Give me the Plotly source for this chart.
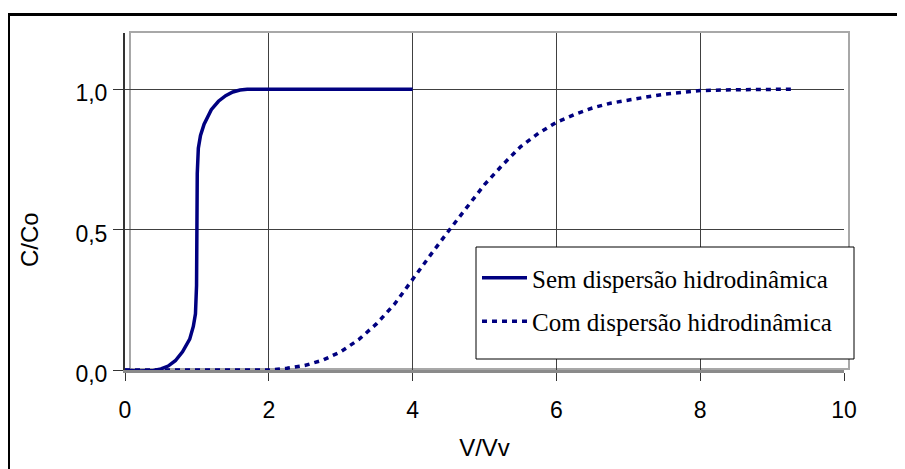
import plotly.graph_objects as go

# ---- data ----
x_sem = [0, 0.2, 0.4, 0.5, 0.6, 0.7, 0.8, 0.9, 0.95, 0.98, 0.995, 1.0, 1.005, 1.02, 1.05,
         1.1, 1.15, 1.2, 1.3, 1.4, 1.5, 1.6, 1.7, 2.0, 3.0, 4.0]
y_sem = [0, -0.004, -0.002, 0.004, 0.014, 0.033, 0.065, 0.11, 0.155, 0.2, 0.3, 0.5, 0.7,
         0.79, 0.835, 0.875, 0.905, 0.927, 0.957, 0.977, 0.99, 0.997, 1.0, 1.0, 1.0, 1.0]

x_com = [0, 0.5, 1.0, 1.5, 2.0, 2.25, 2.5, 2.75, 3.0, 3.25, 3.5, 3.75, 4.0, 4.25, 4.5,
         4.75, 5.0, 5.25, 5.5, 5.75, 6.0, 6.25, 6.5, 6.75, 7.0, 7.25, 7.5, 7.75, 8.0,
         8.5, 9.0, 9.32]
y_com = [0, 0, 0, 0, 0, 0.006, 0.016, 0.035, 0.065, 0.108, 0.165, 0.235, 0.325, 0.41,
         0.495, 0.578, 0.66, 0.73, 0.795, 0.843, 0.882, 0.91, 0.933, 0.95, 0.962, 0.972,
         0.982, 0.99, 0.995, 0.998, 1.0, 1.0]

name_sem = "Sem dispersão hidrodinâmica"
name_com = "Com dispersão hidrodinâmica"
x_title = "V/Vv"
y_title = "C/Co"

# ---- layout geometry (screen pixels; page body has an 8px margin) ----
OFF = 8
W, H = 905 - OFF, 469 - OFF
PL, PR, PT, PB = 125, 844, 33, 370          # plot area on screen
L, T = PL - OFF, PT - OFF
R, B = W - (PR - OFF), H - (PB - OFF)
PW, PH = PR - PL, PB - PT


def px(x):
    return (x - PL) / PW


def py(y):
    return (PB - y) / PH


NAVY = "#000080"
SANS = "Liberation Sans, Arial, sans-serif"
SERIF = "Liberation Serif, Times New Roman, serif"

fig = go.Figure()
fig.add_trace(go.Scatter(x=x_sem, y=y_sem, mode="lines", name=name_sem,
                         legendgroup="a",
                         line=dict(color=NAVY, width=3.5)))
fig.add_trace(go.Scatter(x=x_com, y=y_com, mode="lines", name=name_com,
                         legendgroup="b",
                         line=dict(color=NAVY, width=3.5, dash="5px,5px")))

shapes = [
    # plot-area border (grey, slightly offset like the original)
    dict(type="rect", xref="paper", yref="paper", x0=px(130), x1=px(849),
         y0=py(369), y1=py(32), line=dict(color="#a8a8a8", width=2), layer="below"),
    # legend box
    dict(type="rect", xref="paper", yref="paper", x0=px(476), x1=px(854),
         y0=py(359), y1=py(247), line=dict(color="black", width=1),
         fillcolor="white", layer="above"),
    # page frame lines
    dict(type="line", xref="paper", yref="paper", x0=px(8), x1=px(906),
         y0=py(14.5), y1=py(14.5), line=dict(color="black", width=3)),
    dict(type="line", xref="paper", yref="paper", x0=px(9), x1=px(9),
         y0=py(13), y1=py(470), line=dict(color="black", width=2)),
]

annotations = [
    dict(text=y_title, xref="paper", yref="paper", x=px(29), y=py(240),
         xanchor="center", yanchor="middle", textangle=-90, showarrow=False,
         font=dict(family=SANS, size=24, color="black")),
]

fig.update_layout(
    width=W, height=H,
    margin=dict(l=L, r=R, t=T, b=B, pad=0),
    paper_bgcolor="white", plot_bgcolor="white",
    separators=",.",
    showlegend=True,
    legend=dict(x=px(477), y=py(255), xanchor="left", yanchor="top",
                bgcolor="rgba(0,0,0,0)", borderwidth=0,
                font=dict(family=SERIF, size=25, color="black"),
                traceorder="grouped", tracegroupgap=8, itemwidth=45),
    shapes=shapes,
    annotations=annotations,
    xaxis=dict(range=[0, 10], tick0=0, dtick=2, tickformat="d",
               showgrid=True, gridcolor="#404040", gridwidth=1,
               showline=True, linecolor="#8a8a8a", linewidth=3,
               ticks="outside", ticklen=8, tickcolor="#333333", tickwidth=1,
               zeroline=False, ticklabelstandoff=9,
               tickfont=dict(family=SANS, size=23, color="black"),
               title=dict(text=x_title, font=dict(family=SANS, size=24, color="black"),
                          standoff=18)),
    yaxis=dict(range=[0, 1.2], tick0=0, dtick=0.5, tickformat=".1f",
               showgrid=True, gridcolor="#404040", gridwidth=1,
               showline=True, linecolor="#333333", linewidth=2,
               ticks="outside", ticklen=10, tickcolor="#333333", tickwidth=1,
               zeroline=False, ticklabelstandoff=1, ticklabelshift=4,
               tickfont=dict(family=SANS, size=23, color="black")),
)

fig.write_html("out.html")
